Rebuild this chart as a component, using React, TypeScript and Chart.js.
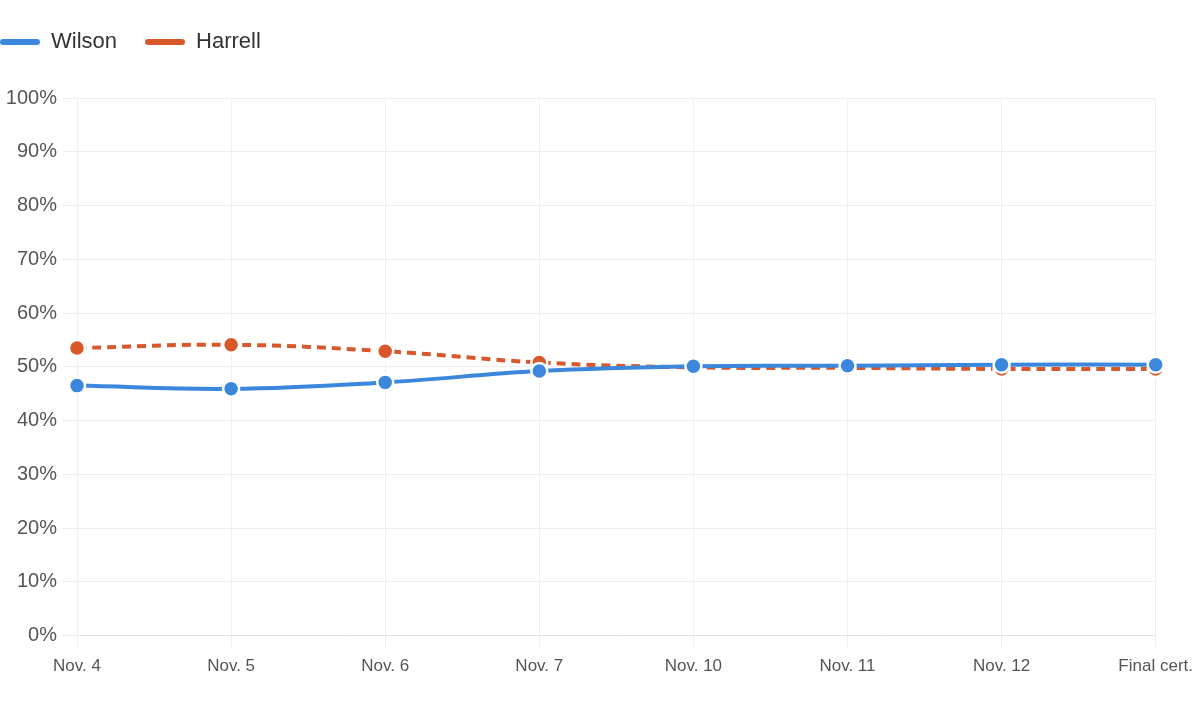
import React, { useEffect, useRef } from "react";
import { Chart, registerables } from "chart.js";

Chart.register(...registerables);

const categories = ["Nov. 4", "Nov. 5", "Nov. 6", "Nov. 7", "Nov. 10", "Nov. 11", "Nov. 12", "Final cert."];
const wilson = [46.5, 45.9, 47.1, 49.2, 50.1, 50.2, 50.4, 50.4];
const harrell = [53.5, 54.1, 52.9, 50.8, 49.9, 49.8, 49.6, 49.6];

const BLUE = "#3A87DC";
const ORANGE = "#D9582B";
const FONT = "'Liberation Sans', Arial, Helvetica, sans-serif";

const legendSpacer = {
  id: "legendSpacer",
  beforeInit(chart: any) {
    const orig = chart.legend.fit;
    chart.legend.fit = function () {
      orig.bind(chart.legend)();
      this.height += 35;
    };
  },
};

export default function App() {
  const ref = useRef<HTMLCanvasElement | null>(null);
  useEffect(() => {
    if (!ref.current) return;
    const chart = new Chart(ref.current, {
      type: "line",
      plugins: [legendSpacer],
      data: {
        labels: categories,
        datasets: [
          {
            label: "Wilson",
            data: wilson,
            borderColor: BLUE,
            backgroundColor: BLUE,
            borderWidth: 4,
            tension: 0.4,
            pointRadius: 8,
            pointBackgroundColor: BLUE,
            pointBorderColor: "#ffffff",
            pointBorderWidth: 2.5,
          },
          {
            label: "Harrell",
            data: harrell,
            borderColor: ORANGE,
            backgroundColor: ORANGE,
            borderWidth: 4,
            borderDash: [9, 6],
            tension: 0.4,
            pointRadius: 8,
            pointBackgroundColor: ORANGE,
            pointBorderColor: "#ffffff",
            pointBorderWidth: 2.5,
          },
        ],
      },
      options: {
        animation: false,
        responsive: true,
        maintainAspectRatio: false,
        layout: { padding: { top: 3, bottom: 22, left: 0, right: 0 } },
        plugins: {
          tooltip: { enabled: false },
          legend: {
            position: "top",
            align: "start",
            labels: {
              boxWidth: 40,
              boxHeight: 6,
              useBorderRadius: true,
              borderRadius: 3,
              padding: 28,
              color: "#333",
              font: { family: FONT, size: 22 },
              generateLabels: (c: any) =>
                c.data.datasets.map((ds: any, i: number) => ({
                  text: ds.label,
                  fillStyle: ds.borderColor,
                  strokeStyle: ds.borderColor,
                  lineWidth: 0,
                  lineDash: [],
                  borderRadius: 3,
                  datasetIndex: i,
                  hidden: false,
                  fontColor: "#333",
                })),
            },
          },
        },
        scales: {
          x: {
            grid: { color: "#f0f0f0", tickLength: 12, drawTicks: true },
            border: { color: "#e4e4e4" },
            ticks: { color: "#555", font: { family: FONT, size: 17 }, padding: 9, maxRotation: 0 },
          },
          y: {
            min: 0,
            max: 100,
            afterFit: (scale: any) => {
              scale.width = 105;
            },
            grid: { color: "#eeeeee", tickLength: 14 },
            border: { color: "#eeeeee" },
            ticks: {
              stepSize: 10,
              color: "#555",
              padding: 6,
              font: { family: FONT, size: 20 },
              callback: (v: any) => v + "%",
            },
          },
        },
      },
    });
    return () => chart.destroy();
  }, []);
  return (
    <div style={{ position: "fixed", left: -28, top: 0, width: 1230, height: 708 }}>
      <canvas ref={ref} />
    </div>
  );
}
